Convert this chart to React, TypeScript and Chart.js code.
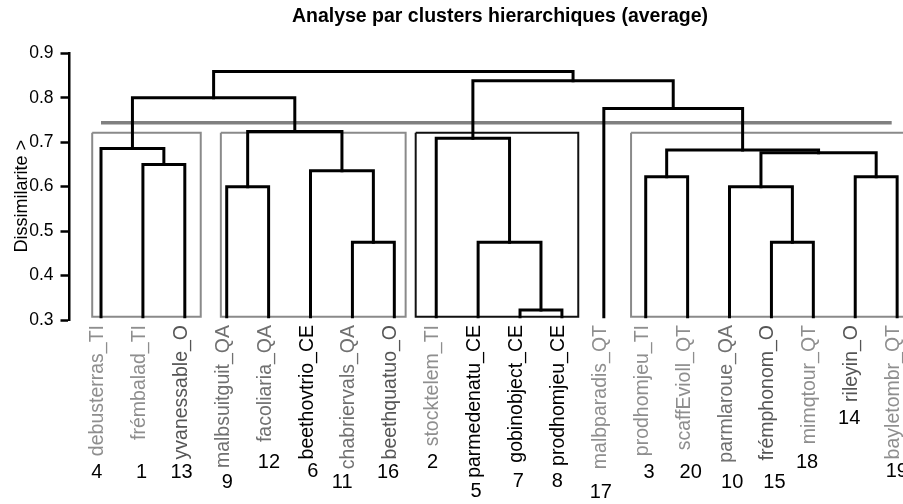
import React, { useEffect, useRef } from "react";
import { Chart, registerables } from "chart.js";

Chart.register(...registerables);

// ---- Data ----
const leafLabels = [
  "debusterras_TI", "frémbalad_TI", "yvanessable_O", "malbsuitguit_QA", "facoliaria_QA",
  "beethovtrio_CE", "chabriervals_QA", "beethquatuo_O", "stocktelem_TI", "parmedenatu_CE",
  "gobinobject_CE", "prodhomjeu_CE", "malbparadis_QT", "prodhomjeu_TI", "scaffEvioll_QT",
  "parmlaroue_QA", "frémphonom_O", "mimqtour_QT", "rileyin_O", "bayletombr_QT",
];
const leafIds = [4, 1, 13, 9, 12, 6, 11, 16, 2, 5, 7, 8, 17, 3, 20, 10, 15, 18, 14, 19];

// hclust-style merges: negative = leaf position (1-based), positive = earlier merge (1-based)
const mergeA = [-11, -7, -17, -10, -4, -16, -14, -19, -6, -2, 6, 7, -1, -9, 5, -13, 13, 14, 17];
const mergeB = [-12, -8, -18, 1, -5, 3, -15, -20, 2, -3, 8, 11, 10, 4, 9, 12, 15, 16, 18];
const mergeHeight = [
  0.3225, 0.475, 0.475, 0.475, 0.6, 0.6, 0.6225, 0.6225, 0.636, 0.65,
  0.676, 0.6825, 0.686, 0.709, 0.724, 0.776, 0.8, 0.838, 0.859,
];
const leafBase = 0.3075;

const clusterLeft = [0.79, 3.86, 8.51, 13.65];
const clusterRight = [3.38, 8.27, 12.39, 20.35];
const clusterTop = 0.7215;
const cutHeight = 0.744;
const cutFrom = 1.0;
const cutTo = 19.87;

const yMin = 0.3;
const yMax = 0.9;
const yStep = 0.1;

const titleText = "Analyse par clusters hierarchiques (average)";
const yTitleText = "Dissimilarite >";

// ---- Layout / style (not data) ----
const FONT = "'Liberation Sans', Arial, Helvetica, sans-serif";
const numberDx = [-4.3, -1.3, -3.3, 0.7, 0.3, 2.3, -10.3, -6.3, -3.7, -2, -1.7, -4.7, -3, 3.3, 3, 2.7, 3, -6.3, -6, -0.3];
const numberY = [472.7, 472.7, 472.7, 482.7, 462.3, 471.7, 482.7, 472.3, 462.3, 491.7, 481.7, 481.7, 492.7, 472.7, 472.7, 482.7, 482.7, 462.7, 418.3, 471.7];
const boxColors = ["#8a8a8a", "#8a8a8a", "#111111", "#8a8a8a"];
const suffixColor: Record<string, string> = {
  CE: "#000000",
  O: "#555555",
  QA: "#707070",
  TI: "#8e8e8e",
  QT: "#8e8e8e",
};

function buildSegments() {
  const nodeX: number[] = [];
  const nodeY: number[] = [];
  const pos = (ref: number) => (ref < 0 ? -ref : nodeX[ref - 1]);
  const hgt = (ref: number) => (ref < 0 ? leafBase : nodeY[ref - 1]);
  const segs: { x: number; y: number }[][] = [];
  for (let i = 0; i < mergeA.length; i++) {
    const xa = pos(mergeA[i]);
    const xb = pos(mergeB[i]);
    const h = mergeHeight[i];
    segs.push([
      { x: xa, y: hgt(mergeA[i]) },
      { x: xa, y: h },
      { x: xb, y: h },
      { x: xb, y: hgt(mergeB[i]) },
    ]);
    nodeX.push((xa + xb) / 2);
    nodeY.push(h);
  }
  return segs;
}

const labelPlugin = {
  id: "dendroText",
  afterDraw(chart: any) {
    const ctx: CanvasRenderingContext2D = chart.ctx;
    const xs = chart.scales.x;
    ctx.save();
    // Title
    ctx.fillStyle = "#000";
    ctx.font = `bold 19.5px ${FONT}`;
    ctx.textAlign = "center";
    ctx.textBaseline = "alphabetic";
    ctx.fillText(titleText, 500, 21.7);

    // Y title
    ctx.save();
    ctx.translate(26.7, 196.3);
    ctx.rotate(-Math.PI / 2);
    ctx.font = `18px ${FONT}`;
    ctx.textAlign = "center";
    ctx.fillText(yTitleText, 0, 0);
    ctx.restore();

    // Leaf labels
    leafLabels.forEach((lab, i) => {
      const px = xs.getPixelForValue(i + 1);
      const suf = lab.split("_").pop() as string;
      ctx.save();
      ctx.translate(px + 2, 325);
      ctx.rotate(-Math.PI / 2);
      ctx.font = `19.5px ${FONT}`;
      ctx.fillStyle = suffixColor[suf] || "#808080";
      ctx.textAlign = "right";
      ctx.textBaseline = "alphabetic";
      ctx.fillText(lab, 0, 0);
      ctx.restore();
    });

    // Leaf numbers
    ctx.font = `20px ${FONT}`;
    ctx.fillStyle = "#000";
    ctx.textAlign = "center";
    ctx.textBaseline = "middle";
    leafIds.forEach((id, i) => {
      const px = xs.getPixelForValue(i + 1);
      ctx.fillText(String(id), px + numberDx[i], numberY[i]);
    });
    ctx.restore();
  },
};

export default function App() {
  const ref = useRef<HTMLCanvasElement | null>(null);

  useEffect(() => {
    if (!ref.current) return;
    const segs = buildSegments();
    const datasets: any[] = [];
    segs.forEach((s) =>
      datasets.push({
        data: s,
        showLine: true,
        borderColor: "#000",
        borderWidth: 3,
        pointRadius: 0,
        borderJoinStyle: "miter",
        borderCapStyle: "square",
        clip: 4,
      })
    );
    clusterLeft.forEach((x0, k) => {
      const x1 = clusterRight[k];
      datasets.push({
        data: [
          { x: x0, y: clusterTop },
          { x: x1, y: clusterTop },
          { x: x1, y: leafBase },
          { x: x0, y: leafBase },
          { x: x0, y: clusterTop },
        ],
        showLine: true,
        borderColor: boxColors[k],
        borderWidth: 2,
        pointRadius: 0,
        borderJoinStyle: "miter",
        clip: 4,
      });
    });
    datasets.push({
      data: [
        { x: cutFrom, y: cutHeight },
        { x: cutTo, y: cutHeight },
      ],
      showLine: true,
      borderColor: "#808080",
      borderWidth: 3.5,
      pointRadius: 0,
      clip: 4,
    });

    const chart = new Chart(ref.current, {
      type: "scatter",
      data: { datasets },
      options: {
        animation: false,
        responsive: false,
        layout: { padding: { top: 53.3, bottom: 184, left: 0, right: 0 } },
        plugins: {
          legend: { display: false },
          title: { display: false },
          tooltip: { enabled: false },
        },
        scales: {
          x: {
            type: "linear",
            display: false,
            min: 0.248,
            max: 20.14,
          },
          y: {
            type: "linear",
            min: yMin,
            max: yMax,
            afterFit: (s: any) => {
              s.width = 69.5;
            },
            border: { display: true, color: "#000", width: 2.5 },
            grid: {
              drawOnChartArea: false,
              drawTicks: true,
              tickLength: 9,
              tickColor: "#000",
              tickWidth: 2.5,
            },
            ticks: {
              stepSize: yStep,
              color: "#000",
              padding: 7,
              font: { family: FONT, size: 17.5 },
              callback: (v: any) => Number(v).toFixed(1),
            },
          },
        },
      },
      plugins: [labelPlugin],
    });
    return () => chart.destroy();
  }, []);

  return (
    <div style={{ position: "fixed", left: 0, top: 0, width: 903, height: 504, background: "#fff" }}>
      <canvas ref={ref} width={903} height={504} style={{ display: "block" }} />
    </div>
  );
}
